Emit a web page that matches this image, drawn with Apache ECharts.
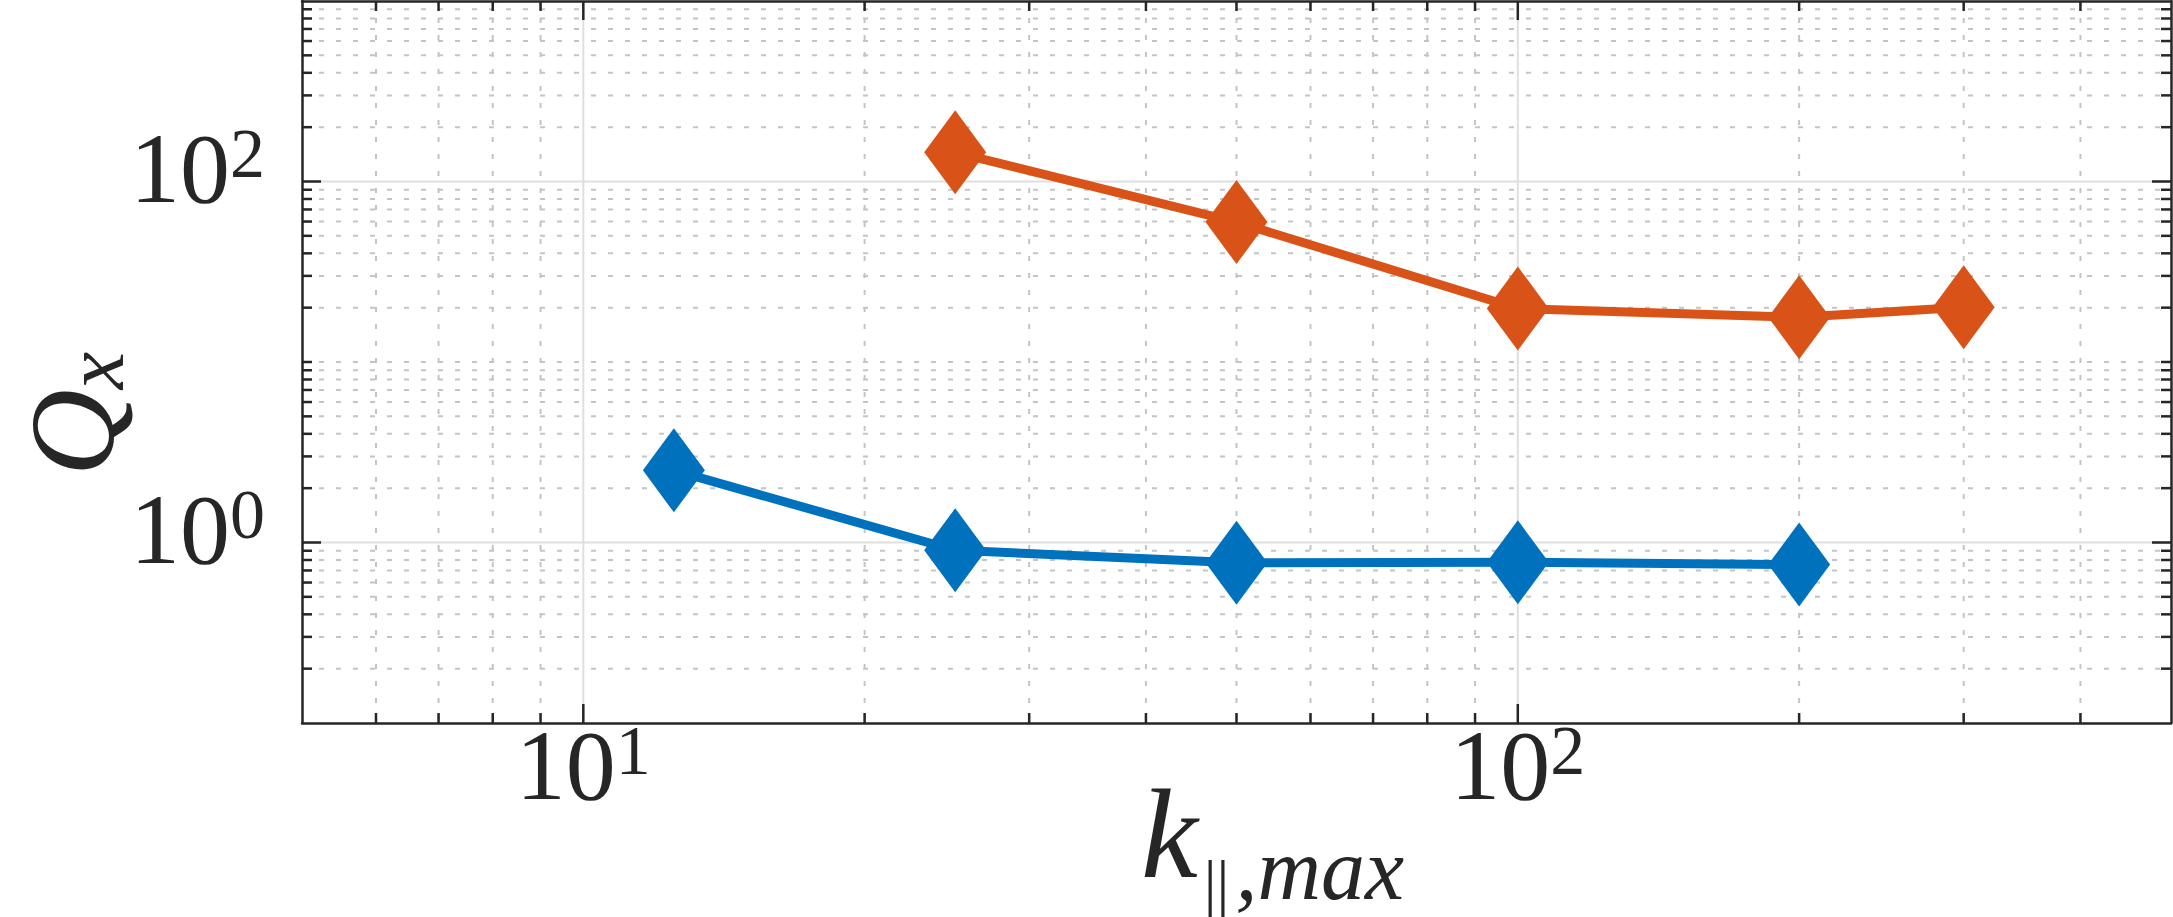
<!DOCTYPE html>
<html>
<head>
<meta charset="utf-8">
<script src="https://cdn.jsdelivr.net/npm/echarts@6/dist/echarts.min.js"></script>
<style>
  html, body { margin: 0; padding: 0; background: #fff; }
  #chart { width: 2173px; height: 917px; }
</style>
</head>
<body>
<div id="chart"></div>
<script>
// k_par,max values and heat flux Q_x
var kBlue = [12.5, 25, 50, 100, 200];
var qBlue = [2.51, 0.906, 0.772, 0.777, 0.755];
var kOrange = [25, 50, 100, 200, 300];
var qOrange = [145, 59.6, 19.8, 17.7, 20.1];

// axis ticks (log axes)
var xMajor = [10, 100];
var xMinor = [6, 7, 8, 9, 20, 30, 40, 50, 60, 70, 80, 90, 200, 300, 400];
var yMajor = [1, 100];
var yMinor = [0.2, 0.3, 0.4, 0.5, 0.6, 0.7, 0.8, 0.9, 2, 3, 4, 5, 6, 7, 8, 9,
              10, 20, 30, 40, 50, 60, 70, 80, 90, 200, 300, 400, 500, 600, 700, 800, 900];
var xTickExp = [1, 2];
var yTickExp = [0, 2];

(function() {
  var ink = '#262626';
  var blue = '#0072BD';
  var orange = '#D95319';
  var serif = '"Liberation Serif", "DejaVu Serif", serif';

  var chart = echarts.init(document.getElementById('chart'), null, { renderer: 'svg' });

  // one list of grid/tick lines, both directions
  var lines = [];
  xMajor.forEach(function(v) { lines.push({ dir: 'x', v: v, major: true }); });
  xMinor.forEach(function(v) { lines.push({ dir: 'x', v: v, major: false }); });
  yMajor.forEach(function(v) { lines.push({ dir: 'y', v: v, major: true }); });
  yMinor.forEach(function(v) { lines.push({ dir: 'y', v: v, major: false }); });
  var lineData = lines.map(function(l) { return l.dir === 'x' ? [l.v, 1] : [10, l.v]; });

  function renderGrid(params, api) {
    var l = lines[params.dataIndex];
    var cs = params.coordSys;
    var style = l.major
      ? { stroke: '#dfdfdf', lineWidth: 2 }
      : { stroke: '#c4c4c4', lineWidth: 2, lineDash: [5, 12] };
    if (l.dir === 'x') {
      var x = api.coord([l.v, 1])[0];
      return { type: 'line', shape: { x1: x, y1: cs.y, x2: x, y2: cs.y + cs.height }, style: style };
    }
    var y = api.coord([10, l.v])[1];
    return { type: 'line', shape: { x1: cs.x, y1: y, x2: cs.x + cs.width, y2: y }, style: style };
  }

  function renderTicks(params, api) {
    var l = lines[params.dataIndex];
    var cs = params.coordSys;
    var len = l.major ? 19 : 10;
    var style = { stroke: ink, lineWidth: 2.5 };
    var a, b;
    if (l.dir === 'x') {
      var x = api.coord([l.v, 1])[0];
      var bot = cs.y + cs.height;
      a = { x1: x, y1: bot, x2: x, y2: bot - len };
      b = { x1: x, y1: cs.y, x2: x, y2: cs.y + len };
    } else {
      var y = api.coord([10, l.v])[1];
      var right = cs.x + cs.width;
      a = { x1: cs.x, y1: y, x2: cs.x + len, y2: y };
      b = { x1: right, y1: y, x2: right - len, y2: y };
    }
    return {
      type: 'group',
      children: [
        { type: 'line', shape: a, style: style },
        { type: 'line', shape: b, style: style }
      ]
    };
  }

  function powLabel(exps) {
    return function(val) {
      var e = Math.round(Math.log(val) / Math.LN10);
      if (Math.abs(Math.log(val) / Math.LN10 - e) > 1e-6) return '';
      if (exps.indexOf(e) < 0) return '';
      return '{b|10}{s|' + e + '}';
    };
  }

  var tickRich = {
    b: { fontFamily: serif, fontSize: 100, lineHeight: 100, color: ink, verticalAlign: 'bottom' },
    s: { fontFamily: serif, fontSize: 70, lineHeight: 44, color: ink, verticalAlign: 'top' }
  };

  var boxLine = { show: true, onZero: false, lineStyle: { color: ink, width: 2.5 } };

  chart.setOption({
    animation: false,
    grid: { left: 302, right: 2, top: 1, bottom: 194, containLabel: false, outerBoundsMode: 'none' },
    xAxis: [{
      type: 'log', logBase: 10, min: 5, max: 500, position: 'bottom', z: 10,
      axisLine: boxLine,
      axisTick: { show: false }, minorTick: { show: false },
      splitLine: { show: false }, minorSplitLine: { show: false },
      axisLabel: { margin: -8, formatter: powLabel(xTickExp), rich: tickRich, showMinLabel: false, showMaxLabel: false },
      name: '{k|k}{b|||}{s|,max}',
      nameLocation: 'middle', nameGap: 47, nameMoveOverlap: false,
      nameTextStyle: {
        padding: [0, 0, 0, 72],
        rich: {
          k: { fontFamily: serif, fontStyle: 'italic', fontSize: 128, lineHeight: 116, color: ink, verticalAlign: 'top' },
          b: { fontFamily: serif, fontSize: 64, lineHeight: 20, color: ink, verticalAlign: 'top', padding: [80, 6, 0, 6] },
          s: { fontFamily: serif, fontStyle: 'italic', fontSize: 88, lineHeight: 20, color: ink, verticalAlign: 'top', padding: [55, 0, 0, 0] }
        }
      }
    }, {
      type: 'log', logBase: 10, min: 5, max: 500, position: 'top', z: 10,
      axisLine: boxLine, axisTick: { show: false }, axisLabel: { show: false }, splitLine: { show: false }
    }],
    yAxis: [{
      type: 'log', logBase: 10, min: 0.1, max: 1000, position: 'left', z: 10,
      axisLine: boxLine,
      axisTick: { show: false }, minorTick: { show: false },
      splitLine: { show: false }, minorSplitLine: { show: false },
      axisLabel: { margin: 37, padding: [0, 0, 26, 0], formatter: powLabel(yTickExp), rich: tickRich, showMinLabel: false, showMaxLabel: false },
      name: '{q|Q}{s|x}',
      nameLocation: 'middle', nameRotate: 90, nameGap: 170, nameMoveOverlap: false,
      nameTextStyle: {
        padding: [0, 104, 0, 0],
        rich: {
          q: { fontFamily: serif, fontStyle: 'italic', fontSize: 120, lineHeight: 120, color: ink, verticalAlign: 'top' },
          s: { fontFamily: serif, fontStyle: 'italic', fontSize: 84, lineHeight: 20, color: ink, verticalAlign: 'top', padding: [40, 0, 0, 0] }
        }
      }
    }, {
      type: 'log', logBase: 10, min: 0.1, max: 1000, position: 'right', z: 10,
      axisLine: boxLine, axisTick: { show: false }, axisLabel: { show: false }, splitLine: { show: false }
    }],
    series: [{
      type: 'custom', coordinateSystem: 'cartesian2d', xAxisIndex: 0, yAxisIndex: 0,
      silent: true, z: 1, data: lineData, renderItem: renderGrid
    }, {
      type: 'custom', coordinateSystem: 'cartesian2d', xAxisIndex: 0, yAxisIndex: 0,
      silent: true, z: 5, data: lineData, renderItem: renderTicks
    }, {
      type: 'line', xAxisIndex: 0, yAxisIndex: 0, z: 3,
      data: kBlue.map(function(k, i) { return [k, qBlue[i]]; }),
      symbol: 'diamond', symbolSize: [62, 84],
      lineStyle: { color: blue, width: 9 }, itemStyle: { color: blue }
    }, {
      type: 'line', xAxisIndex: 0, yAxisIndex: 0, z: 3,
      data: kOrange.map(function(k, i) { return [k, qOrange[i]]; }),
      symbol: 'diamond', symbolSize: [62, 84],
      lineStyle: { color: orange, width: 9 }, itemStyle: { color: orange }
    }]
  });
  window.addEventListener('resize', function() { chart.resize(); });
})();
</script>
</body>
</html>
